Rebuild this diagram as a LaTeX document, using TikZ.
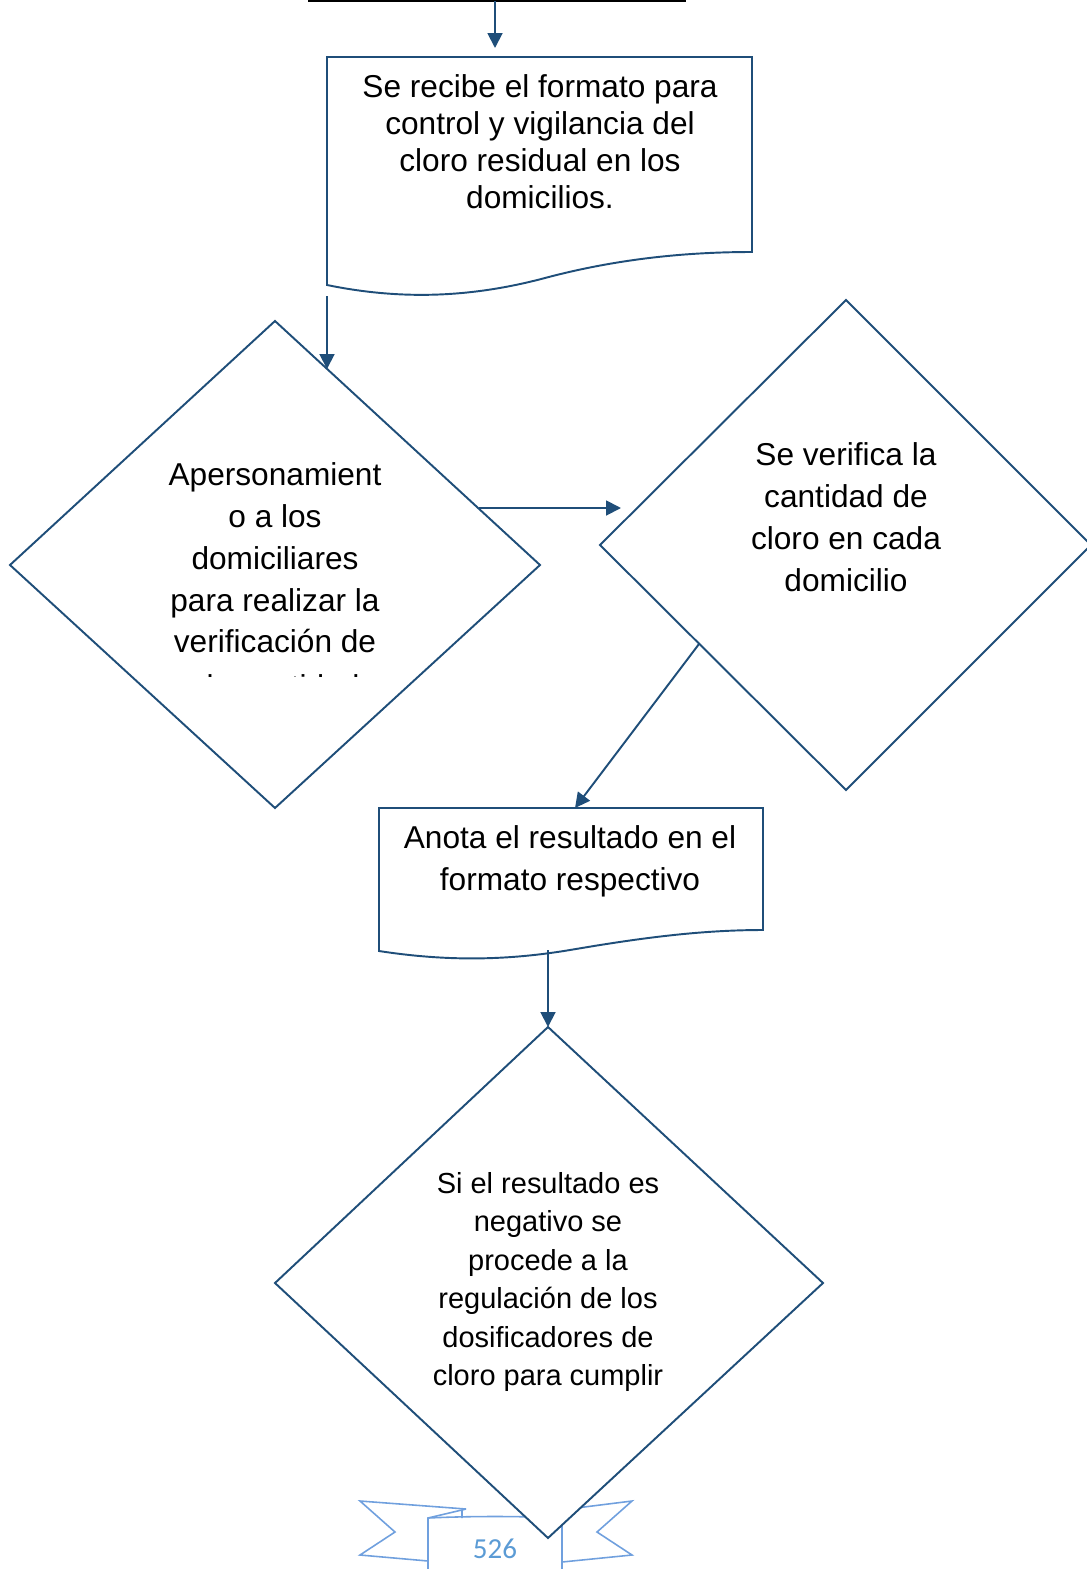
\documentclass[tikz,border=0pt]{standalone}
\usepackage{fontspec}
\setmainfont{Liberation Sans}
\newfontfamily\ribfont{Carlito}
\usetikzlibrary{arrows.meta}
\definecolor{flow}{RGB}{31,78,121}
\definecolor{rib}{RGB}{112,160,222}
\definecolor{ribtxt}{RGB}{91,155,213}
\begin{document}
\begin{tikzpicture}[x=0.02cm,y=-0.02cm,
  shp/.style={draw=flow, line width=1.1pt, fill=white, line join=miter},
  con/.style={draw=flow, line width=1.1pt, -{Triangle[length=8.5pt,width=8.5pt]}},
  ribbon/.style={draw=rib, line width=0.9pt, fill=white, line join=miter},
  txt/.style={align=center, inner sep=0pt, text=black},
  big/.style={font=\fontsize{18}{23.8}\selectfont},
  bigtight/.style={font=\fontsize{18}{21}\selectfont},
  small/.style={font=\fontsize{16.5}{21.9}\selectfont}]
\useasboundingbox (0,0) rectangle (1087,1569);

% top line
\draw[black, line width=1.2pt] (308,1) -- (686,1);

% ribbon (page number)
\draw[ribbon] (466,1509) -- (360,1501) -- (395,1532) -- (360,1555) -- (428,1561);
\draw[ribbon] (560,1510) -- (632,1501) -- (597,1532) -- (632,1555) -- (562,1562);
\draw[ribbon] (428,1575) -- (428,1518) .. controls (470,1516) and (520,1516) .. (562,1518) -- (562,1575);
\draw[ribbon, fill=none] (428,1518) -- (466,1509) -- (462,1510) -- (462,1518);

% shapes
\draw[shp] (327,57) -- (752,57) -- (752,252)
  .. controls (690,252) and (620,258) .. (545,278)
  .. controls (470,298) and (400,300) .. (327,285) -- cycle;
\draw[shp] (275,321) -- (540,565) -- (275,808) -- (10,565) -- cycle;
\draw[shp] (846,300) -- (1091,545) -- (846,790) -- (600,545) -- cycle;
\draw[shp] (379,808) -- (763,808) -- (763,930)
  .. controls (700,930) and (640,938) .. (570,950)
  .. controls (510,960) and (450,962) .. (379,951) -- cycle;
\draw[shp] (548,1027) -- (823,1283) -- (548,1538) -- (275,1283) -- cycle;

% texts
\node[txt, bigtight] (t1) at (540,142) {Se recibe el formato para\\control y vigilancia del\\cloro residual en los\\domicilios.};
\node[txt, big] (t2) at (275,558) {Apersonamient\\o a los\\domiciliares\\para realizar la\\verificación de};
\begin{scope}
  \clip (150,600) rectangle (400,676);
  \node[txt, big, anchor=base] (t2b) at (283,697) {la cantidad};
\end{scope}
\node[txt, big] (t3) at (846,517) {Se verifica la\\cantidad de\\cloro en cada\\domicilio};
\node[txt, big] (t4) at (570,861) {Anota el resultado en el\\formato respectivo};
\node[txt, small] (t5) at (548,1282) {Si el resultado es\\negativo se\\procede a la\\regulación de los\\dosificadores de\\cloro para cumplir};
\node[txt, text=ribtxt, font=\ribfont\fontsize{16.5}{20}\selectfont] (pg) at (495,1549) {526};

% connectors
\coordinate (c1s) at (495,1);   \coordinate (c1e) at (495,48);
\coordinate (c2s) at (327,296); \coordinate (c2e) at (327,369);
\coordinate (c3s) at (479,508); \coordinate (c3e) at (621,508);
\coordinate (c4s) at (699,644); \coordinate (c4e) at (575,808);
\coordinate (c5s) at (548,950); \coordinate (c5e) at (548,1027);
\draw[con] (c1s) -- (c1e);
\draw[con] (c2s) -- (c2e);
\draw[con] (c3s) -- (c3e);
\draw[con] (c4s) -- (c4e);
\draw[con] (c5s) -- (c5e);
\end{tikzpicture}
\end{document}
